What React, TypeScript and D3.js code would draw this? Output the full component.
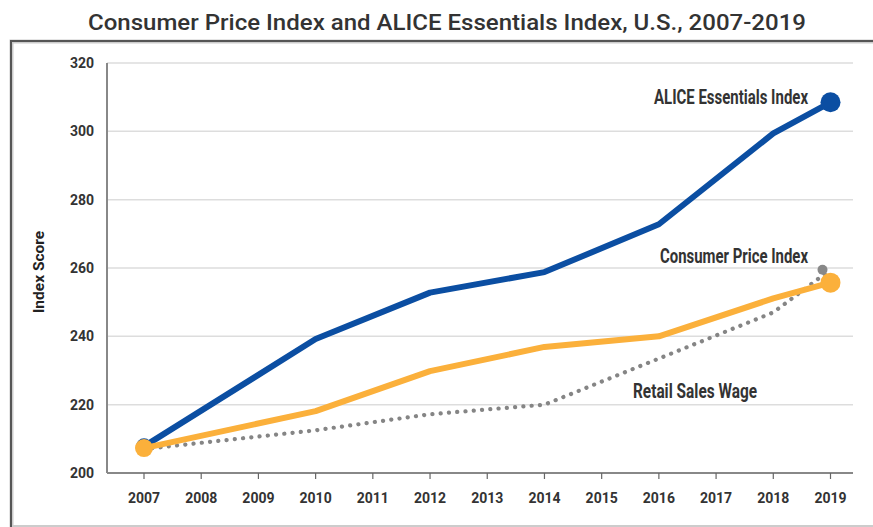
import React from "react";
import * as d3 from "d3";

const years = [2007, 2010, 2012, 2014, 2016, 2018, 2019];
const aliceValues = [207.8, 239.2, 252.8, 258.8, 272.8, 299.4, 308.5];
const cpiValues = [207.3, 218.1, 229.8, 236.9, 240.0, 251.1, 255.7];
const wageValues = [207.0, 212.5, 217.2, 220.0, 233.5, 247.0, 259.5];
const xTicks = d3.range(2007, 2020);
const yTicks = [200, 220, 240, 260, 280, 300, 320];
const title = "Consumer Price Index and ALICE Essentials Index, U.S., 2007-2019";

const W = 873, H = 527;
const left = 107, right = 853, top = 63, bottom = 473;
const x0 = 144, x1 = 830.5;

export default function App() {
  const x = d3.scaleLinear().domain([2007, 2019]).range([x0, x1]);
  const y = d3.scaleLinear().domain([200, 320]).range([bottom, top]);
  const line = d3.line<number>().x((_, i) => x(years[i])).y((d) => y(d));
  const n = years.length - 1;
  const font = "Roboto, 'Noto Sans', sans-serif";
  return (
    <svg width={W} height={H} style={{ position: "absolute", left: 0, top: 0, background: "#fff" }}>
      <text x={447} y={30} textAnchor="middle" fontFamily={font} fontWeight={500} fontSize={22} fill="#333" textLength={718} lengthAdjust="spacingAndGlyphs">{title}</text>
      {/* frame */}
      <line x1={10} y1={526} x2={W} y2={526} stroke="#bbb" strokeWidth={1.5} />
      <path d={`M11.5,${H} V41.5 H${W}`} fill="none" stroke="#ccc" strokeWidth={4} />
      <path d={`M11,${H} V41 H${W}`} fill="none" stroke="#555" strokeWidth={2} />
      {/* grid */}
      {yTicks.filter((t) => t > 200).map((t) => (
        <line key={t} x1={left} x2={right} y1={y(t)} y2={y(t)} stroke="#ddd" strokeWidth={1.5} />
      ))}
      {yTicks.map((t) => (
        <text key={"yl" + t} x={94} y={y(t) + 5} textAnchor="end" fontFamily={font} fontWeight={700} fontSize={14} fill="#333">{t}</text>
      ))}
      <line x1={left} x2={left} y1={top} y2={bottom} stroke="#888" strokeWidth={2} />
      <line x1={left} x2={right} y1={bottom} y2={bottom} stroke="#888" strokeWidth={2} />
      {xTicks.map((t) => (
        <g key={"x" + t}>
          <line x1={x(t)} x2={x(t)} y1={bottom} y2={bottom + 6} stroke="#666" strokeWidth={1.2} />
          <text x={x(t)} y={503} textAnchor="middle" fontFamily={font} fontWeight={700} fontSize={14} fill="#333">{t}</text>
        </g>
      ))}
      <text transform={`translate(44,272) rotate(-90)`} textAnchor="middle" fontFamily={font} fontWeight={700} fontSize={15.5} fill="#222">Index Score</text>
      {/* series */}
      <path d={line(wageValues) || ""} fill="none" stroke="#858585" strokeWidth={4.2} strokeDasharray="0.1 8.2" strokeLinecap="round" />
      <path d={line(aliceValues) || ""} fill="none" stroke="#0b4ea2" strokeWidth={6} strokeLinejoin="round" />
      <path d={line(cpiValues) || ""} fill="none" stroke="#fbb03b" strokeWidth={6} strokeLinejoin="round" />
      <circle cx={x(years[0])} cy={y(aliceValues[0])} r={8} fill="#0b4ea2" />
      <circle cx={x(years[0])} cy={y(cpiValues[0])} r={9} fill="#fbb03b" />
      <circle cx={x(years[n])} cy={y(aliceValues[n])} r={10} fill="#0b4ea2" />
      <circle cx={x(years[n]) - 8} cy={y(wageValues[n])} r={5} fill="#888" />
      <circle cx={x(years[n])} cy={y(cpiValues[n])} r={10} fill="#fbb03b" />
      {/* annotations */}
      <text x={808} y={104} textAnchor="end" fontFamily={font} fontWeight={700} fontSize={20} fill="#333" textLength={154} lengthAdjust="spacingAndGlyphs">ALICE Essentials Index</text>
      <text x={808} y={263} textAnchor="end" fontFamily={font} fontWeight={700} fontSize={20} fill="#333" textLength={148} lengthAdjust="spacingAndGlyphs">Consumer Price Index</text>
      <text x={757} y={398} textAnchor="end" fontFamily={font} fontWeight={700} fontSize={20} fill="#333" textLength={124} lengthAdjust="spacingAndGlyphs">Retail Sales Wage</text>
    </svg>
  );
}
